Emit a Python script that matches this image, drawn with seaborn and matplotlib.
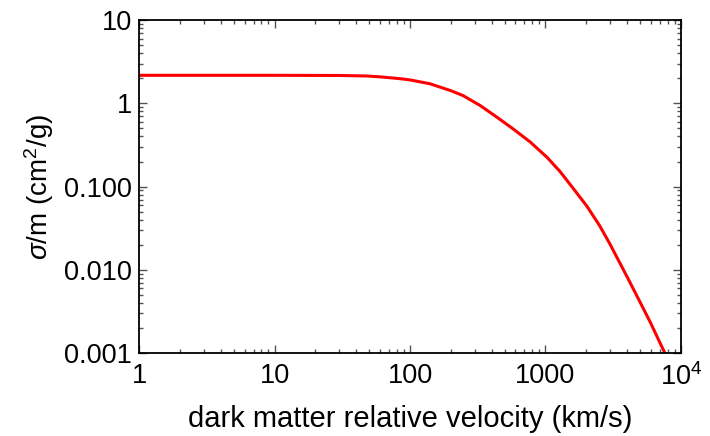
import numpy as np
import pandas as pd
import matplotlib
matplotlib.use("Agg")
import matplotlib.pyplot as plt
import seaborn as sns
from matplotlib.ticker import FixedLocator, FixedFormatter, LogLocator, NullFormatter

# valores
velocidad = [1, 3, 10, 30, 48, 60, 84, 100, 140, 200, 246, 330, 439, 580, 769,
             1026, 1280, 1596, 2025, 2524, 2990, 4205, 5905, 7620]
sigma_m = [2.17, 2.17, 2.17, 2.16, 2.13, 2.08, 1.98, 1.91, 1.72, 1.42, 1.24,
           0.94, 0.68, 0.49, 0.345, 0.225, 0.152, 0.096, 0.058, 0.0335,
           0.0205, 0.0071, 0.0024, 0.001]

xticks = [1, 10, 100, 1000, 10000]
xlabels = ["1", "10", "100", "1000", "10$^4$"]
yticks = [0.001, 0.01, 0.1, 1, 10]
ylabels = ["0.001", "0.010", "0.100", "1", "10"]

df = pd.DataFrame({"v": velocidad, "s": sigma_m})

sns.set_style("ticks")
plt.rcParams["font.family"] = ["Liberation Sans", "DejaVu Sans"]
plt.rcParams["mathtext.fontset"] = "custom"
plt.rcParams["mathtext.rm"] = "Liberation Sans"
plt.rcParams["mathtext.it"] = "Liberation Sans:italic"
plt.rcParams["text.color"] = "black"
plt.rcParams["axes.labelcolor"] = "black"

fig = plt.figure(figsize=(7.1, 4.36), dpi=100)
ax = fig.add_axes([0.196, 0.190, 0.763, 0.764])

sns.lineplot(data=df, x="v", y="s", color="red", lw=2.2, ax=ax)

ax.set_xscale("log")
ax.set_yscale("log")
ax.set_xlim(1, 10000)
ax.set_ylim(0.001, 10)

ax.xaxis.set_major_locator(FixedLocator(xticks))
ax.xaxis.set_major_formatter(FixedFormatter(xlabels))
ax.yaxis.set_major_locator(FixedLocator(yticks))
ax.yaxis.set_major_formatter(FixedFormatter(ylabels))
ax.xaxis.set_minor_locator(LogLocator(base=10, subs=np.arange(2, 10)))
ax.yaxis.set_minor_locator(LogLocator(base=10, subs=np.arange(2, 10)))
ax.xaxis.set_minor_formatter(NullFormatter())
ax.yaxis.set_minor_formatter(NullFormatter())

ax.tick_params(which="both", direction="in", top=True, right=True,
               labelsize=19.5, width=1, color="#555555", labelcolor="black")
ax.tick_params(which="major", length=6)
ax.tick_params(which="minor", length=3)
ax.tick_params(axis="x", which="major", pad=7)
ax.tick_params(axis="y", which="major", pad=5)
for sp in ax.spines.values():
    sp.set_linewidth(1.3)
    sp.set_color("black")

ax.set_xlabel("dark matter relative velocity (km/s)", fontsize=21, labelpad=10)
ax.set_ylabel(r"$\it{\sigma}$/m (cm$^2$/g)", fontsize=20, labelpad=6)

fig.savefig("out.png", dpi=100)
